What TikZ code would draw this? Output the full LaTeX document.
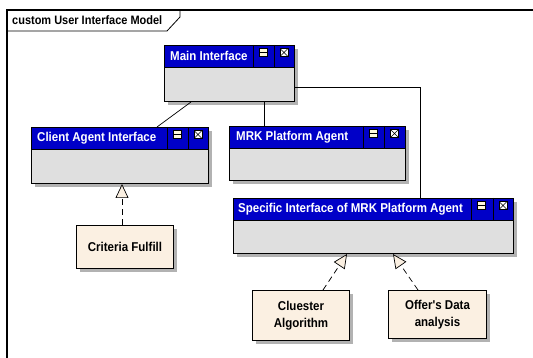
\documentclass[tikz,border=0pt]{standalone}
\usepackage{fontspec}
\setmainfont{Liberation Sans}
\newfontfamily\umlfont[FakeStretch=0.9]{Liberation Sans}
\usetikzlibrary{arrows.meta,shadows}

\definecolor{headblue}{RGB}{0,0,200}
\definecolor{bodygray}{RGB}{223,223,223}
\definecolor{notecream}{RGB}{251,240,226}
\definecolor{iconcream}{RGB}{255,248,220}

\tikzset{
  classbox/.style={draw=black, fill=bodygray, line width=1pt, inner sep=0pt, anchor=north west,
    drop shadow={shadow xshift=3.5pt, shadow yshift=-3.5pt, fill=black!30, opacity=1}},
  headbar/.style={draw=black, fill=headblue, line width=1pt, inner sep=0pt, anchor=north west, minimum height=22pt},
  headtext/.style={text=white, anchor=west, inner sep=0pt, font=\umlfont\fontsize{12.8}{15}\selectfont\bfseries},
  iconmin/.style={draw=black, fill=iconcream, line width=0.8pt, inner sep=0pt, minimum width=8pt, minimum height=8pt,
    path picture={\draw[line width=1pt] (path picture bounding box.west) -- (path picture bounding box.east);}},
  iconclose/.style={draw=black, fill=white, line width=0.8pt, inner sep=0pt, minimum width=8pt, minimum height=8pt,
    path picture={\draw[line width=0.6pt] (path picture bounding box.south west) -- (path picture bounding box.north east)
      (path picture bounding box.north west) -- (path picture bounding box.south east);}},
  notebox/.style={draw=black, fill=notecream, line width=1pt, inner sep=0pt, anchor=north west, align=center,
    font=\umlfont\fontsize{12.8}{16.5}\selectfont\bfseries,
    drop shadow={shadow xshift=3.5pt, shadow yshift=-3.5pt, fill=black!30, opacity=1}},
  assoc/.style={line width=0.7pt},
  realize/.style={line width=0.7pt, dash pattern=on 6pt off 4pt,
    -{Triangle[length=14pt, width=13pt, fill=notecream]}}
}

\begin{document}
\begin{tikzpicture}[x=1pt,y=-1pt]
\useasboundingbox (0,0) rectangle (533,358);

% diagram frame and its name tab
\draw[line width=1.2pt] (7,358) -- (7,10) -- (533,10);
\draw[line width=0.8pt] (7,31) -- (167,31) -- (180,17) -- (180,10);
\node[anchor=west, inner sep=0pt, font=\umlfont\fontsize{12.2}{14}\selectfont\bfseries] (frametitle) at (12,20.5) {custom User Interface Model};

% Main Interface
\node[classbox, minimum width=130pt, minimum height=56pt] (main) at (164,45) {};
\node[headbar, minimum width=130pt] (mainhead) at (164,45) {};
\node[headtext] (maintitle) at (170,56) {Main Interface};
\draw[line width=0.8pt] (253,45) -- (253,67) (274,45) -- (274,67);
\node[iconmin] (mainmin) at (263.5,52.5) {};
\node[iconclose] (mainclose) at (284,52.5) {};

% Client Agent Interface
\node[classbox, minimum width=177pt, minimum height=56pt] (client) at (31,127) {};
\node[headbar, minimum width=177pt] (clienthead) at (31,127) {};
\node[headtext] (clienttitle) at (37,138.5) {Client Agent Interface};
\draw[line width=0.8pt] (167,127) -- (167,149) (188,127) -- (188,149);
\node[iconmin] (clientmin) at (177.5,134.5) {};
\node[iconclose] (clientclose) at (198,134.5) {};

% MRK Platform Agent
\node[classbox, minimum width=176pt, minimum height=54pt] (mrk) at (229,126) {};
\node[headbar, minimum width=176pt] (mrkhead) at (229,126) {};
\node[headtext] (mrktitle) at (236,137.5) {MRK Platform Agent};
\draw[line width=0.8pt] (363,126) -- (363,148) (384,126) -- (384,148);
\node[iconmin] (mrkmin) at (373.5,133.5) {};
\node[iconclose] (mrkclose) at (394.5,133.5) {};

% Specific Interface of MRK Platform Agent
\node[classbox, minimum width=280pt, minimum height=55pt] (spec) at (233,198) {};
\node[headbar, minimum width=280pt] (spechead) at (233,198) {};
\node[headtext] (spectitle) at (238,209.5) {Specific Interface of MRK Platform Agent};
\draw[line width=0.8pt] (471,198) -- (471,220) (493,198) -- (493,220);
\node[iconmin] (specmin) at (481.5,205.5) {};
\node[iconclose] (specclose) at (503,205.5) {};

% realizing classes
\node[notebox, minimum width=97pt, minimum height=43pt] (crit) at (76,225) {Criteria Fulfill};
\node[notebox, minimum width=97pt, minimum height=50pt] (clu) at (252,290) {Cluester\\Algorithm};
\node[notebox, minimum width=98pt, minimum height=48pt] (off) at (388,290) {Offer's Data\\analysis};

% associations
\draw[assoc] ([xshift=27pt]main.south west) -- ([xshift=126pt]client.north west);
\draw[assoc] ([xshift=100pt]main.south west) -- ([xshift=35pt]mrk.north west);
\draw[assoc] ([yshift=-42pt]main.north east) -| ([xshift=187pt]spec.north west);

% realizations
\draw[realize] ([xshift=46pt]crit.north west) -- ([xshift=91pt]client.south west);
\draw[realize] ([xshift=71pt]clu.north west) -- ([xshift=114pt]spec.south west);
\draw[realize] ([xshift=30pt]off.north west) -- ([xshift=160pt]spec.south west);
\end{tikzpicture}
\end{document}
